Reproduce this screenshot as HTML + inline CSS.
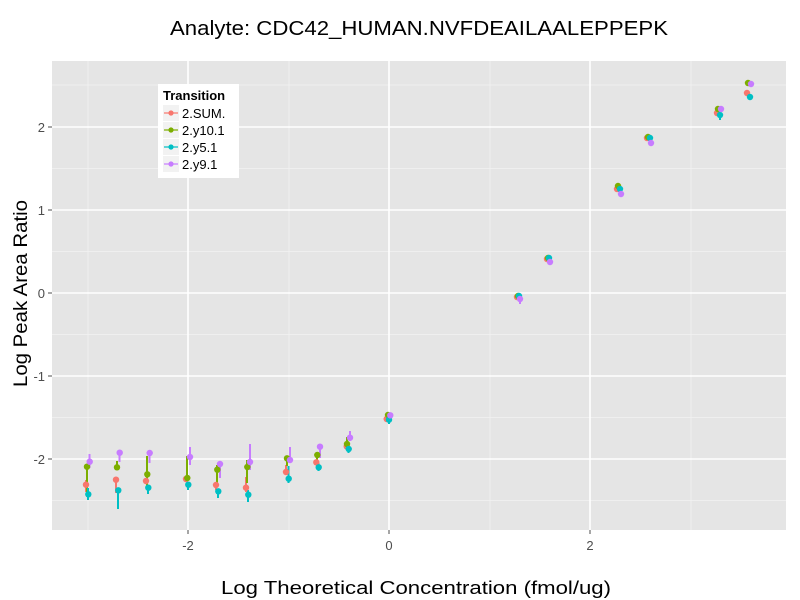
<!DOCTYPE html>
<html><head><meta charset="utf-8"><style>body{margin:0;background:#fff}svg{display:block}text{font-family:"Liberation Sans",sans-serif}</style></head>
<body>
<svg width="800" height="600" xmlns="http://www.w3.org/2000/svg">
<rect width="800" height="600" fill="#fff"/>
<rect x="52" y="61" width="734" height="469" fill="#e5e5e5"/>
<g stroke="#f2f2f2" stroke-width="0.8">
<line x1="88" y1="61" x2="88" y2="530"/><line x1="289" y1="61" x2="289" y2="530"/><line x1="490" y1="61" x2="490" y2="530"/><line x1="691" y1="61" x2="691" y2="530"/>
<line x1="52" y1="85" x2="786" y2="85"/><line x1="52" y1="168.5" x2="786" y2="168.5"/><line x1="52" y1="251.5" x2="786" y2="251.5"/><line x1="52" y1="334.5" x2="786" y2="334.5"/><line x1="52" y1="417.5" x2="786" y2="417.5"/><line x1="52" y1="500.5" x2="786" y2="500.5"/>
</g>
<g stroke="#fff" stroke-width="1.6">
<line x1="188" y1="61" x2="188" y2="530"/><line x1="389" y1="61" x2="389" y2="530"/><line x1="590" y1="61" x2="590" y2="530"/>
<line x1="52" y1="127" x2="786" y2="127"/><line x1="52" y1="210" x2="786" y2="210"/><line x1="52" y1="293" x2="786" y2="293"/><line x1="52" y1="376" x2="786" y2="376"/><line x1="52" y1="459" x2="786" y2="459"/>
</g>
<g stroke="#4d4d4d" stroke-width="1">
<line x1="48" y1="127" x2="52" y2="127"/><line x1="48" y1="210" x2="52" y2="210"/><line x1="48" y1="293" x2="52" y2="293"/><line x1="48" y1="376" x2="52" y2="376"/><line x1="48" y1="459" x2="52" y2="459"/>
<line x1="188" y1="530" x2="188" y2="534"/><line x1="389" y1="530" x2="389" y2="534"/><line x1="590" y1="530" x2="590" y2="534"/>
</g>
<g fill="#4d4d4d" font-size="13" text-anchor="end">
<text x="45" y="132">2</text><text x="45" y="215">1</text><text x="45" y="298">0</text><text x="45" y="381">-1</text><text x="45" y="464">-2</text>
</g>
<g fill="#4d4d4d" font-size="13" text-anchor="middle">
<text x="188" y="550">-2</text><text x="389" y="550">0</text><text x="590" y="550">2</text>
</g>
<text x="170" y="35" font-size="20" textLength="498" lengthAdjust="spacingAndGlyphs">Analyte: CDC42_HUMAN.NVFDEAILAALEPPEPK</text>
<text x="221" y="594" font-size="18" textLength="390" lengthAdjust="spacingAndGlyphs">Log Theoretical Concentration (fmol/ug)</text>
<text transform="translate(27,387) rotate(-90)" font-size="19" textLength="187" lengthAdjust="spacingAndGlyphs">Log Peak Area Ratio</text>
<g stroke-width="2">
<g stroke="#F8766D">
<line x1="86" y1="480" x2="86" y2="492"/><line x1="116" y1="479" x2="116" y2="493"/><line x1="216" y1="483" x2="216" y2="490"/><line x1="246" y1="477" x2="246" y2="492"/><line x1="286" y1="465" x2="286" y2="475"/>
</g>
<g stroke="#7CAE00">
<line x1="87" y1="464" x2="87" y2="492"/><line x1="117" y1="461" x2="117" y2="467"/><line x1="147" y1="456" x2="147" y2="490"/><line x1="187" y1="456" x2="187" y2="480"/><line x1="217" y1="465" x2="217" y2="487"/><line x1="247" y1="460" x2="247" y2="483"/><line x1="287" y1="458" x2="287" y2="466"/><line x1="317" y1="455" x2="317" y2="462"/><line x1="347" y1="437" x2="347" y2="447"/>
</g>
<g stroke="#00BFC4">
<line x1="88" y1="488" x2="88" y2="500"/><line x1="118" y1="490" x2="118" y2="509"/><line x1="148" y1="485" x2="148" y2="494"/><line x1="188" y1="482" x2="188" y2="490"/><line x1="218" y1="490" x2="218" y2="498"/><line x1="248" y1="490" x2="248" y2="502"/><line x1="288.5" y1="466" x2="288.5" y2="483"/><line x1="318.5" y1="463" x2="318.5" y2="471"/><line x1="348.5" y1="447" x2="348.5" y2="453"/><line x1="389" y1="419" x2="389" y2="424"/><line x1="720" y1="115" x2="720" y2="120"/>
</g>
<g stroke="#C77CFF">
<line x1="89.5" y1="454" x2="89.5" y2="468"/><line x1="119.5" y1="450" x2="119.5" y2="462"/><line x1="149.5" y1="453" x2="149.5" y2="463"/><line x1="190" y1="447" x2="190" y2="465"/><line x1="220" y1="462" x2="220" y2="478"/><line x1="250" y1="444" x2="250" y2="470"/><line x1="290" y1="447" x2="290" y2="462"/><line x1="320" y1="446" x2="320" y2="458"/><line x1="350" y1="431" x2="350" y2="441"/><line x1="520" y1="299" x2="520" y2="304"/>
</g>
</g>
<g fill="#F8766D">
<circle cx="86" cy="484.7" r="3.2"/><circle cx="116" cy="479.7" r="3.2"/><circle cx="146" cy="481" r="3.2"/><circle cx="186" cy="479" r="3.2"/><circle cx="216" cy="485" r="3.2"/><circle cx="246" cy="487.7" r="3.2"/><circle cx="286" cy="472" r="3.2"/><circle cx="316.3" cy="462.3" r="3.2"/><circle cx="346.7" cy="446.3" r="3.2"/><circle cx="386.7" cy="419" r="3.2"/><circle cx="517" cy="297" r="3.2"/><circle cx="547" cy="259" r="3.2"/><circle cx="617" cy="189" r="3.2"/><circle cx="647" cy="138" r="3.2"/><circle cx="717" cy="113" r="3.2"/><circle cx="747" cy="93" r="3.2"/>
</g>
<g fill="#7CAE00">
<circle cx="87" cy="466.7" r="3.2"/><circle cx="117" cy="467.3" r="3.2"/><circle cx="147.3" cy="474.3" r="3.2"/><circle cx="187.3" cy="478" r="3.2"/><circle cx="217.3" cy="469.7" r="3.2"/><circle cx="247.3" cy="467" r="3.2"/><circle cx="287" cy="458.3" r="3.2"/><circle cx="317.3" cy="455" r="3.2"/><circle cx="347" cy="444" r="3.2"/><circle cx="388" cy="415" r="3.2"/><circle cx="518" cy="296" r="3.2"/><circle cx="548" cy="258" r="3.2"/><circle cx="618" cy="186" r="3.2"/><circle cx="648" cy="137" r="3.2"/><circle cx="718" cy="109" r="3.2"/><circle cx="748" cy="83" r="3.2"/>
</g>
<g fill="#00BFC4">
<circle cx="88.3" cy="494.3" r="3.2"/><circle cx="118.3" cy="490.3" r="3.2"/><circle cx="148.3" cy="487.7" r="3.2"/><circle cx="188.3" cy="484.7" r="3.2"/><circle cx="218.3" cy="491.3" r="3.2"/><circle cx="248.3" cy="494.7" r="3.2"/><circle cx="288.7" cy="478.7" r="3.2"/><circle cx="318.7" cy="467.3" r="3.2"/><circle cx="348.7" cy="449" r="3.2"/><circle cx="389" cy="419.7" r="3.2"/><circle cx="519" cy="296" r="3.2"/><circle cx="549" cy="258" r="3.2"/><circle cx="620" cy="189" r="3.2"/><circle cx="650" cy="138" r="3.2"/><circle cx="720" cy="115" r="3.2"/><circle cx="750" cy="97" r="3.2"/>
</g>
<g fill="#C77CFF">
<circle cx="89.7" cy="461.7" r="3.2"/><circle cx="119.7" cy="452.7" r="3.2"/><circle cx="149.7" cy="453" r="3.2"/><circle cx="190" cy="457" r="3.2"/><circle cx="220" cy="464" r="3.2"/><circle cx="250" cy="462" r="3.2"/><circle cx="290" cy="460" r="3.2"/><circle cx="320" cy="446.7" r="3.2"/><circle cx="350" cy="437.7" r="3.2"/><circle cx="390.3" cy="415.3" r="3.2"/><circle cx="520" cy="299" r="3.2"/><circle cx="550" cy="262" r="3.2"/><circle cx="621" cy="194" r="3.2"/><circle cx="651" cy="143" r="3.2"/><circle cx="721" cy="109" r="3.2"/><circle cx="751" cy="84" r="3.2"/>
</g>
<rect x="158" y="84" width="81" height="94" fill="#fff"/>
<text x="163" y="100" font-size="13" font-weight="bold">Transition</text>
<g>
<rect x="163" y="105" width="16" height="16" fill="#f2f2f2"/><line x1="164" y1="113" x2="178" y2="113" stroke="#F8766D" stroke-width="1.2"/><circle cx="171" cy="113" r="2.6" fill="#F8766D"/>
<rect x="163" y="122" width="16" height="16" fill="#f2f2f2"/><line x1="164" y1="130" x2="178" y2="130" stroke="#7CAE00" stroke-width="1.2"/><circle cx="171" cy="130" r="2.6" fill="#7CAE00"/>
<rect x="163" y="139" width="16" height="16" fill="#f2f2f2"/><line x1="164" y1="147" x2="178" y2="147" stroke="#00BFC4" stroke-width="1.2"/><circle cx="171" cy="147" r="2.6" fill="#00BFC4"/>
<rect x="163" y="156" width="16" height="16" fill="#f2f2f2"/><line x1="164" y1="164" x2="178" y2="164" stroke="#C77CFF" stroke-width="1.2"/><circle cx="171" cy="164" r="2.6" fill="#C77CFF"/>
</g>
<g font-size="13">
<text x="182" y="118">2.SUM.</text><text x="182" y="135">2.y10.1</text><text x="182" y="152">2.y5.1</text><text x="182" y="169">2.y9.1</text>
</g>
</svg>
</body></html>
